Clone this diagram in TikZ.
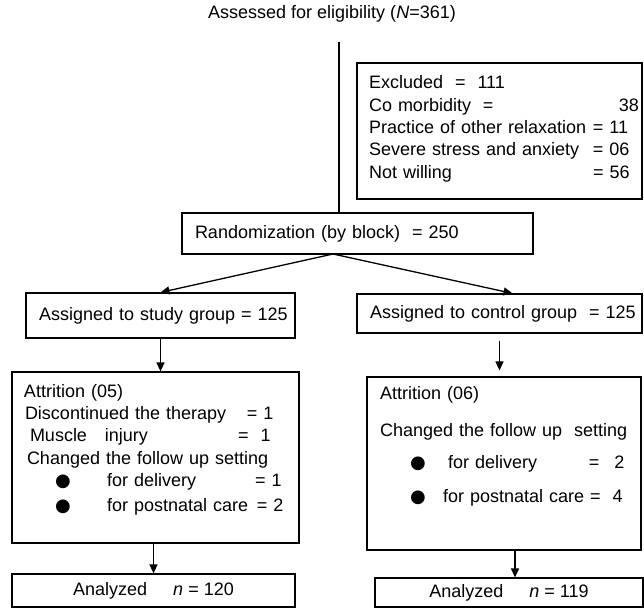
\documentclass[tikz,border=0pt]{standalone}
\usepackage{fontspec}
\setmainfont{Liberation Sans}
\newfontfamily\dotfont{DejaVu Sans}
\usetikzlibrary{arrows.meta,positioning,calc}
% extra depth at the foot of a box text
\newcommand{\vpad}[1]{\rule[-#1]{0pt}{#1}}

\begin{document}
\begin{tikzpicture}[x=1pt,y=-1pt,
  font=\fontsize{18}{22.3}\selectfont,
  box/.style={draw,line width=1.2pt,inner ysep=0pt,inner xsep=3pt,align=left},
  arr/.style={-{Triangle[length=9pt,width=8pt]},line width=1.3pt},
  trunk/.style={line width=2.2pt}]
\useasboundingbox (0,0) rectangle (644,609);
\node (elig) at (332,14) {Assessed for eligibility (\textit{N}=361)};
\node[box,text width=279pt,minimum height=136pt] (excl) at (499.5,131)
  {\leftskip=9pt Excluded \ = \ 111\\
   \makebox[114pt][l]{Co morbidity}=\hfill 38\hspace*{2pt}\\
   \makebox[224pt][l]{Practice of other relaxation}= 11\\
   \makebox[224pt][l]{Severe stress and anxiety}= 06\\
   \makebox[224pt][l]{Not willing}= 56\vpad{8pt}\par};
\node[box,text width=345pt,minimum height=41pt] (rand) at (357.5,233.5)
  {\leftskip=10pt Randomization (by block) \ = 250\par};
\node[box,text width=263pt,minimum height=45pt] (study) at (160.5,315.5)
  {\leftskip=10pt Assigned to study group = 125\par};
\node[box,text width=279pt,minimum height=39pt] (ctrl) at (499.5,313.5)
  {\leftskip=10pt Assigned to control group \ = 125\par};
\node[box,text width=281pt,minimum height=171pt] (attr1) at (155.5,457.5)
  {\leftskip=9pt Attrition (05)\\
   \hspace*{1pt}\makebox[222pt][l]{Discontinued the therapy}= 1\\
   \hspace*{6pt}\makebox[208pt][l]{Muscle\ \ \ injury}= \ 1\\
   \hspace*{3pt}Changed the follow up setting\\
   \hspace*{31pt}\makebox[52pt][l]{\dotfont ●}\makebox[148pt][l]{for delivery}= 1\\[3pt]
   \hspace*{31pt}\makebox[52pt][l]{\dotfont ●}\makebox[150pt][l]{for postnatal care}= 2\vpad{19pt}\par};
\node[box,text width=268pt,minimum height=173pt] (attr2) at (504,463.5)
  {\leftskip=10pt Attrition (06)\\[15pt]
   Changed the follow up\ \ setting\\[10pt]
   \hspace*{30pt}\makebox[38pt][l]{\dotfont ●}\makebox[141pt][l]{for delivery}=\hspace{15pt}2\\[12pt]
   \hspace*{30pt}\makebox[33pt][l]{\dotfont ●}for postnatal care = \ 4\vpad{38pt}\par};
\node[box,minimum width=283pt,minimum height=33pt,align=center] (anl1) at (153.5,590.5)
  {Analyzed\hspace{26pt}\textit{n} = 120};
\node[box,minimum width=268pt,minimum height=29pt,align=center] (anl2) at (509,592.5)
  {Analyzed\hspace{26pt}\textit{n} = 119};
\coordinate (top) at (339,42);
\coordinate (fork) at (333,254);
\coordinate (in2) at ($(anl2.north)+(6,0)$);
\draw[trunk] (top) -- (top |- rand.north);
\draw[arr] (fork) -- (study.north);
\draw[arr] (fork) -- ([xshift=13pt]ctrl.north);
\draw[arr] (study.south) -- (study.south |- attr1.north);
\draw[arr,shorten <=7pt,shorten >=6pt] (ctrl.south) -- (ctrl.south |- attr2.north);
\draw[arr] (anl1.north |- attr1.south) -- (anl1.north);
\draw[arr] (in2 |- attr2.south) -- (in2);
\end{tikzpicture}
\end{document}
